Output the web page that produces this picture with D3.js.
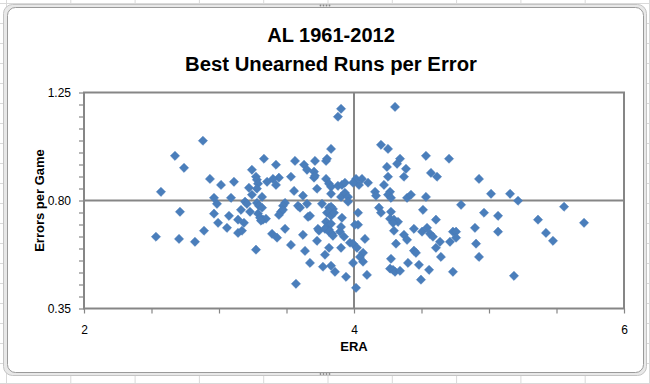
<!DOCTYPE html>
<html><head><meta charset="utf-8">
<script src="https://cdn.jsdelivr.net/npm/d3@7"></script>
<style>html,body{margin:0;padding:0;background:#fff;}svg{display:block;}</style>
</head><body>
<svg id="chart" width="650" height="384"></svg>
<script>
const titleLines = ["AL 1961-2012", "Best Unearned Runs per Error"];
const xLabel = "ERA";
const yLabel = "Errors per Game";
const xTickLabels = [2, 4, 6];
const yTickLabels = [0.35, 0.80, 1.25];
const xCross = 4;
const yCross = 0.80;

const era = [
2.881,2.674,2.741,2.933,3.015,2.570,2.963,2.985,2.711,2.963,2.993,2.889,2.533,2.704,2.822,
3.904,3.881,3.830,3.333,3.422,3.563,3.630,3.711,3.793,3.800,3.244,3.652,3.704,3.533,3.444,3.274,3.281,3.400,3.704,3.711,
3.793,3.111,3.356,3.422,3.289,3.222,3.815,3.830,3.881,3.911,3.933,3.556,3.726,3.281,3.244,3.319,3.089,3.622,3.830,3.904,
3.933,3.956,3.193,3.207,3.281,3.296,3.319,3.489,3.474,3.585,3.600,3.652,3.763,3.815,3.830,3.844,3.074,3.163,3.230,3.289,
3.304,3.326,3.348,3.459,3.474,3.444,3.659,3.674,3.800,3.815,3.830,3.852,3.911,3.141,3.185,3.059,3.141,3.170,3.311,3.489,
3.733,3.741,3.793,3.800,3.815,3.830,3.785,3.815,3.837,3.844,3.904,3.896,3.926,3.393,3.430,3.622,3.726,3.533,3.637,3.815,
3.904,3.785,3.274,3.674,3.770,3.830,3.859,3.941,3.570,3.970,
4.304,4.200,4.252,4.533,4.704,4.341,4.319,4.244,4.385,4.570,4.615,4.252,4.370,4.926,4.015,4.059,4.037,3.993,4.104,4.222,
4.156,4.163,4.267,4.252,4.274,4.393,4.422,4.533,3.956,4.793,4.185,4.200,4.274,4.511,4.030,4.267,4.296,4.326,4.289,4.296,
4.030,4.007,4.607,4.444,4.504,4.541,4.563,4.585,4.733,4.756,4.756,4.896,4.370,4.393,4.081,4.637,4.711,4.904,3.993,4.022,
4.311,4.444,4.459,4.607,4.067,4.044,4.067,4.644,4.926,3.993,4.274,4.400,4.481,4.267,4.289,4.304,4.341,4.556,4.733,4.096,
4.496,4.015,
5.015,5.156,5.215,5.556,4.963,5.067,5.363,5.704,5.067,5.422,5.474,5.185
];
const errorsPerGame = [
1.049,0.986,0.936,0.890,0.865,0.836,0.811,0.786,0.753,0.745,0.707,0.674,0.649,0.640,0.628,
1.182,1.149,1.015,0.974,0.949,0.965,0.949,0.965,0.965,0.974,0.928,0.928,0.920,0.899,0.895,0.899,0.886,0.890,0.895,0.903,
0.890,0.878,0.878,0.865,0.870,0.853,0.870,0.857,0.861,0.865,0.874,0.840,0.849,0.849,0.824,0.815,0.811,0.820,0.828,0.815,
0.832,0.815,0.795,0.786,0.790,0.778,0.770,0.790,0.778,0.778,0.770,0.786,0.786,0.770,0.774,0.765,0.736,0.761,0.753,0.745,
0.728,0.720,0.724,0.753,0.761,0.740,0.732,0.736,0.749,0.753,0.736,0.749,0.728,0.720,0.707,0.686,0.665,0.674,0.716,0.682,
0.682,0.674,0.711,0.690,0.678,0.703,0.682,0.670,0.661,0.653,0.690,0.670,0.649,0.661,0.645,0.657,0.632,0.615,0.590,0.603,
0.603,0.574,0.595,0.540,0.524,0.528,0.503,0.482,0.453,0.624,
1.190,1.032,1.015,0.986,0.974,0.974,0.953,0.940,0.932,0.915,0.899,0.899,0.899,0.890,0.890,0.890,0.865,0.874,0.874,0.865,
0.836,0.820,0.836,0.824,0.811,0.811,0.824,0.815,0.795,0.782,0.770,0.749,0.753,0.761,0.749,0.724,0.720,0.711,0.707,0.674,
0.699,0.699,0.720,0.682,0.670,0.686,0.661,0.649,0.670,0.670,0.645,0.686,0.657,0.636,0.640,0.628,0.628,0.620,0.620,0.603,
0.620,0.591,0.582,0.603,0.582,0.565,0.545,0.565,0.565,0.540,0.557,0.540,0.532,0.516,0.511,0.503,0.507,0.511,0.503,0.490,
0.470,0.436,
0.828,0.828,0.799,0.774,0.749,0.736,0.720,0.707,0.670,0.665,0.632,0.486
];

const svg = d3.select("#chart");
const W = 650, H = 384;
const gridColor = "#d9d9d9";
const axisColor = "#868686";
const markColor = "#4a7ebb";

// spreadsheet background grid
const bg = svg.append("g");
d3.range(0, 11).forEach(i => {
  const xx = 6.5 + i * 64.3;
  bg.append("line").attr("x1", xx).attr("x2", xx).attr("y1", 0).attr("y2", H)
    .attr("stroke", gridColor).attr("stroke-width", 1);
});
d3.range(0, 20).forEach(i => {
  const yy = 3.5 + i * 20;
  bg.append("line").attr("x1", 0).attr("x2", W).attr("y1", yy).attr("y2", yy)
    .attr("stroke", gridColor).attr("stroke-width", 1);
});

// chart frame (selected look)
svg.append("rect").attr("x", 3.5).attr("y", 4.5).attr("width", 643).attr("height", 371)
  .attr("rx", 9).attr("fill", "#e8e8e8").attr("stroke", "#c4c4c4");
svg.append("rect").attr("x", 7.5).attr("y", 7.5).attr("width", 636).attr("height", 365)
  .attr("rx", 8).attr("fill", "#fff").attr("stroke", "#9a9a9a").attr("stroke-width", 1);
// handles
[[325, 5.5], [325, 374]].forEach(([hx, hy]) => {
  d3.range(4).forEach(k => {
    svg.append("circle").attr("cx", hx - 4.5 + k * 3).attr("cy", hy).attr("r", 0.9).attr("fill", "#8a8a8a");
  });
});

// scales
const x = d3.scaleLinear().domain([2, 6]).range([84, 624]);
const y = d3.scaleLinear().domain([0.35, 1.25]).range([308.5, 92.5]);

// title
const font = "'Liberation Sans', Arial, sans-serif";
svg.append("text").attr("x", 331).attr("y", 42).attr("text-anchor", "middle")
  .attr("font-family", font).attr("font-weight", "bold").attr("font-size", 20).attr("fill", "#000")
  .text(titleLines[0]);
svg.append("text").attr("x", 331).attr("y", 70.5).attr("text-anchor", "middle")
  .attr("font-family", font).attr("font-weight", "bold").attr("font-size", 20.3).attr("fill", "#000")
  .text(titleLines[1]);

// axes with minor ticks
const xAxis = d3.axisBottom(x).tickValues(d3.range(2, 6.001, 0.5)).tickSize(5).tickSizeOuter(0)
  .tickFormat(d => xTickLabels.includes(d) ? d3.format("d")(d) : "");
const gx = svg.append("g").attr("transform", `translate(0,${y(0.35)})`).call(xAxis);
gx.select(".domain").remove();
gx.selectAll(".tick line").attr("stroke", axisColor).attr("stroke-width", 1.2);
gx.selectAll(".tick text").attr("font-family", font).attr("font-size", 12).attr("fill", "#000").attr("dy", "1.45em");

const yTickVals = d3.range(0, 19).map(i => +(0.35 + i * 0.05).toFixed(2));
const yAxis = d3.axisLeft(y).tickValues(yTickVals).tickSize(5).tickSizeOuter(0)
  .tickFormat(d => yTickLabels.some(v => Math.abs(v - d) < 1e-6) ? d3.format(".2f")(d) : "");
const gy = svg.append("g").attr("transform", `translate(${x(2)},0)`).call(yAxis);
gy.select(".domain").remove();
gy.selectAll(".tick line").attr("stroke", axisColor).attr("stroke-width", 1.2);
gy.selectAll(".tick text").attr("font-family", font).attr("font-size", 12).attr("fill", "#000").attr("x", -13);

// plot frame
svg.append("rect").attr("x", x(2)).attr("y", y(1.25)).attr("width", x(6) - x(2)).attr("height", y(0.35) - y(1.25))
  .attr("fill", "none").attr("stroke", axisColor).attr("stroke-width", 2);
// cross lines
svg.append("line").attr("x1", x(xCross)).attr("x2", x(xCross)).attr("y1", y(1.25)).attr("y2", y(0.35))
  .attr("stroke", axisColor).attr("stroke-width", 2);
svg.append("line").attr("x1", x(2)).attr("x2", x(6)).attr("y1", y(yCross)).attr("y2", y(yCross))
  .attr("stroke", axisColor).attr("stroke-width", 2);

// axis titles
svg.append("text").attr("x", x(4)).attr("y", 351).attr("text-anchor", "middle")
  .attr("font-family", font).attr("font-weight", "bold").attr("font-size", 13).text(xLabel);
svg.append("text").attr("transform", `translate(44,${y(0.8)}) rotate(-90)`).attr("text-anchor", "middle")
  .attr("font-family", font).attr("font-weight", "bold").attr("font-size", 13).text(yLabel);

// points
const pts = era.map((e, i) => ({ e, g: errorsPerGame[i] }));
const r = 4.6;
svg.append("g").selectAll("path").data(pts).join("path")
  .attr("transform", d => `translate(${x(d.e)},${y(d.g)})`)
  .attr("d", `M0,${-r}L${r},0L0,${r}L${-r},0Z`)
  .attr("fill", markColor).attr("stroke", "#4679b6").attr("stroke-width", 0.5);
</script>
</body></html>
